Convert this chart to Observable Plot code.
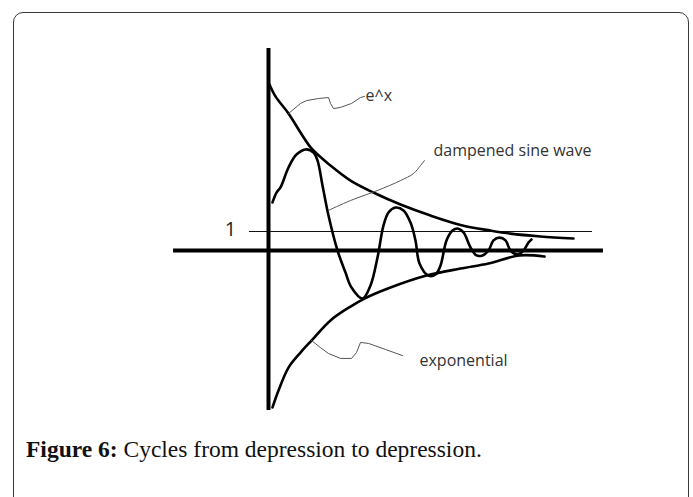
<!DOCTYPE html>
<html>
<head>
<meta charset="utf-8">
<script src="https://cdn.jsdelivr.net/npm/d3@7"></script>
<script src="https://cdn.jsdelivr.net/npm/@observablehq/plot@0.6"></script>
<style>
  html, body { margin: 0; padding: 0; background: #fff; width: 693px; height: 497px; overflow: hidden; }
  #frame { position: absolute; left: 13px; top: 12px; width: 676px; height: 520px; border: 1px solid #3a3a3a; border-radius: 10px; box-sizing: border-box; }
  #chart { position: absolute; left: 0; top: 0; }
  #caption { position: absolute; left: 26px; top: 436px; font-family: "Liberation Serif", serif; font-size: 23.5px; color: #111; white-space: nowrap; }
  #caption b { font-weight: bold; }
</style>
</head>
<body>
<div id="frame"></div>
<div id="chart"></div>
<div id="caption"><b>Figure 6:</b> Cycles from depression to depression.</div>
<script>
// Upper envelope (e^x)
const upperX = [0.05, 0.35, 1.0, 1.6, 2.15, 3.1, 4.1, 5.35, 6.6, 8.1, 9.7, 11.1, 12.1, 13.6, 15.25];
const upperY = [8.74, 8.11, 7.21, 6.21, 5.37, 4.47, 3.68, 3.0, 2.42, 1.84, 1.32, 1.05, 0.89, 0.74, 0.63];

// Lower envelope (exponential)
const lowerX = [0.2, 0.5, 1.0, 1.6, 2.15, 3.1, 4.1, 4.8, 6.1, 7.9, 9.6, 11.0, 12.55, 13.8];
const lowerY = [-8.26, -7.37, -6.16, -5.37, -4.74, -3.68, -2.95, -2.53, -1.95, -1.32, -0.95, -0.68, -0.26, -0.32];

// Dampened sine wave
const sineX = [0.2, 0.4, 0.6, 1.0, 1.4, 1.9, 2.25, 2.45, 2.7, 3.0, 3.45, 3.85, 4.15, 4.7, 5.1, 5.45, 5.75, 6.0, 6.35, 6.75, 7.1, 7.35, 7.55, 8.0, 8.35, 8.6, 8.9, 9.2, 9.45, 9.75, 10.1, 10.4, 10.7, 11.0, 11.25, 11.55, 11.85, 12.1, 12.45, 12.75, 13.0, 13.15];
const sineY = [2.53, 3.05, 3.32, 4.37, 5.05, 5.32, 5.16, 4.74, 3.42, 1.84, 0, -1.16, -1.95, -2.53, -1.84, -0.37, 1.32, 2.0, 2.26, 2.11, 1.47, 0.53, -0.68, -1.32, -1.26, -0.79, 0.53, 1.05, 1.16, 0.95, 0.16, -0.26, -0.26, 0, 0.53, 0.68, 0.53, 0, -0.21, 0, 0.42, 0.58];

// Leader lines for the annotations
const expLeadX = [1.0, 1.6, 1.9, 2.5, 3.0, 3.1, 3.25, 3.6, 4.15, 4.6, 4.8];
const expLeadY = [7.21, 7.74, 7.89, 8.0, 8.05, 7.74, 7.47, 7.53, 7.74, 8.05, 8.11];
const sineLeadX = [3.0, 4.1, 5.45, 6.6, 7.25, 7.6, 7.8];
const sineLeadY = [2.11, 2.63, 3.16, 3.68, 4.05, 4.47, 4.74];
const lowLeadX = [2.15, 2.6, 3.0, 3.6, 4.15, 4.4, 4.6, 5.0, 5.85, 6.7];
const lowLeadY = [-4.74, -5.11, -5.42, -5.68, -5.68, -5.37, -4.84, -4.89, -5.21, -5.53];

// Labels
const labelText = ["e^x", "dampened sine wave", "exponential"];
const labelX = [4.85, 8.25, 7.55];
const labelY = [8.16, 5.26, -5.79];
const oneLabel = ["1"];
const oneX = [-1.9];
const oneY = [1.1];

// Axes and reference level
const vAxisX = [0];
const vAxisY = [-8.42, 10.63];
const hAxisY = [0];
const hAxisX = [-4.75, 16.75];
const refY = [1];
const refX = [-0.95, 16.2];

const pts = (xs, ys) => xs.map((x, i) => ({x, y: ys[i]}));

const chart = Plot.plot({
  width: 693,
  height: 420,
  margin: 0,
  x: {domain: [-13.4, 21.25], axis: null},
  y: {domain: [-8.947, 13.158], axis: null},
  marks: [
    Plot.ruleY(refY, {x1: refX[0], x2: refX[1], stroke: "#111", strokeWidth: 1}),
    Plot.ruleX(vAxisX, {y1: vAxisY[0], y2: vAxisY[1], stroke: "#000", strokeWidth: 4}),
    Plot.ruleY(hAxisY, {x1: hAxisX[0], x2: hAxisX[1], stroke: "#000", strokeWidth: 4}),
    Plot.line(pts(upperX, upperY), {x: "x", y: "y", curve: "catmull-rom", stroke: "#000", strokeWidth: 2.6}),
    Plot.line(pts(lowerX, lowerY), {x: "x", y: "y", curve: "catmull-rom", stroke: "#000", strokeWidth: 2.6}),
    Plot.line(pts(sineX, sineY), {x: "x", y: "y", curve: "catmull-rom", stroke: "#000", strokeWidth: 2.6}),
    Plot.line(pts(expLeadX, expLeadY), {x: "x", y: "y", stroke: "#555", strokeWidth: 1}),
    Plot.line(pts(sineLeadX, sineLeadY), {x: "x", y: "y", curve: "catmull-rom", stroke: "#555", strokeWidth: 1}),
    Plot.line(pts(lowLeadX, lowLeadY), {x: "x", y: "y", stroke: "#555", strokeWidth: 1}),
    Plot.text(labelText.map((t, i) => ({t, x: labelX[i], y: labelY[i]})), {x: "x", y: "y", text: "t", textAnchor: "start", fontSize: 16, fontFamily: "Open Sans", fill: "#333"}),
    Plot.text(oneLabel.map((t, i) => ({t, x: oneX[i], y: oneY[i]})), {x: "x", y: "y", text: "t", textAnchor: "middle", fontSize: 20, fontFamily: "Open Sans", fill: "#222"})
  ]
});
chart.style.background = "transparent";
document.getElementById("chart").append(chart);
</script>
</body>
</html>
